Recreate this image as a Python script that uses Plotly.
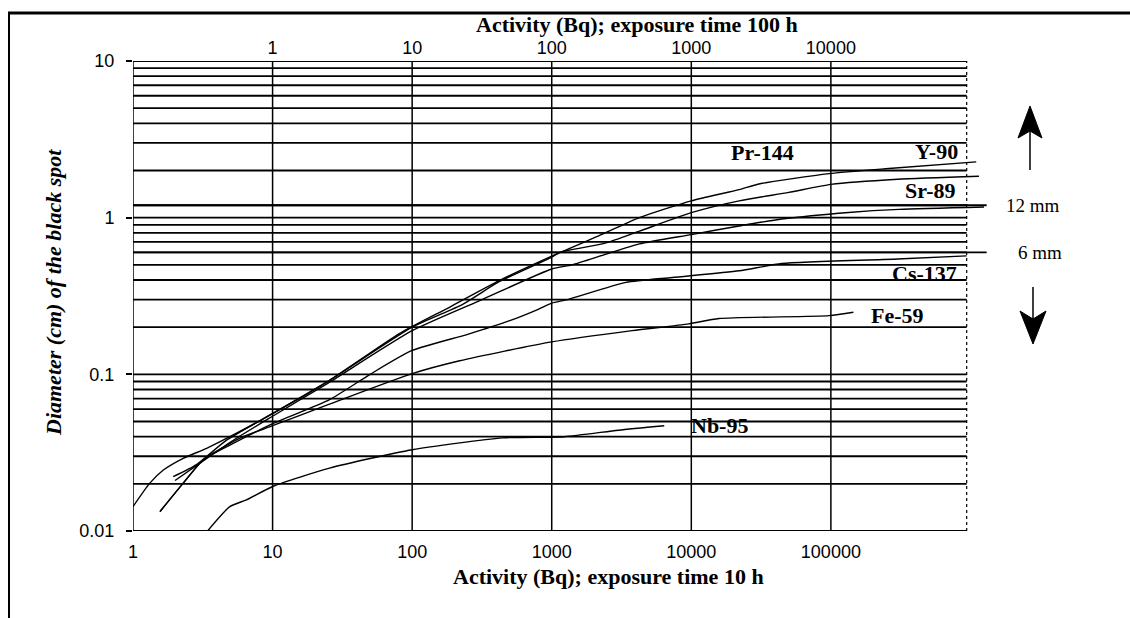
import plotly.graph_objects as go

# ---------------- data ----------------
# Activity (Bq) for 10 h exposure  ->  diameter (cm) of the black spot
y90_x = [1.94, 2.85, 4.68, 10, 25.6, 81, 185, 420, 1010, 2170, 4250, 10000, 22000, 30500, 97000, 260000, 1.1e6]
y90_y = [0.0222, 0.0265, 0.038, 0.0563, 0.0916, 0.182, 0.268, 0.396, 0.57, 0.765, 1.0, 1.28, 1.51, 1.64, 1.91, 2.06, 2.27]

pr144_x = [1.0, 1.32, 1.65, 2.29, 3.37, 4.94, 10.1, 25.6, 100, 230, 420, 1000, 1140, 2450, 4250, 10000, 22000, 50000, 100000, 300000, 1.15e6]
pr144_y = [0.0143, 0.0202, 0.0245, 0.0291, 0.0337, 0.040, 0.0563, 0.0916, 0.2, 0.28, 0.39, 0.56, 0.6, 0.69, 0.82, 1.076, 1.28, 1.45, 1.63, 1.76, 1.84]

sr89_x = [2.0, 3.0, 5.0, 10, 25, 100, 317, 1000, 1400, 2450, 4250, 10000, 22000, 44500, 134000, 308000, 1.25e6]
sr89_y = [0.021, 0.027, 0.037, 0.054, 0.088, 0.19, 0.30, 0.47, 0.5, 0.585, 0.68, 0.78, 0.885, 0.98, 1.08, 1.13, 1.17]

cs137_x = [1.56, 2.29, 3.18, 4.94, 10.1, 25.6, 50, 100, 250, 500, 800, 1000, 1300, 3400, 7300, 22000, 44500, 300000, 940000]
cs137_y = [0.0133, 0.0202, 0.0284, 0.0353, 0.0486, 0.069, 0.1, 0.142, 0.18, 0.22, 0.26, 0.285, 0.30, 0.386, 0.415, 0.458, 0.51, 0.545, 0.57]

fe59_x = [1.56, 2.29, 3.18, 5.8, 10, 25, 100, 219, 1000, 3770, 9600, 15800, 97000, 145000]
fe59_y = [0.0133, 0.0202, 0.0284, 0.039, 0.047, 0.064, 0.101, 0.122, 0.161, 0.19, 0.21, 0.227, 0.237, 0.249]

nb95_x = [3.1, 4.94, 6.5, 10.1, 25.6, 100, 445, 1230, 3000, 6400]
nb95_y = [0.009, 0.0143, 0.0158, 0.0193, 0.0252, 0.033, 0.0393, 0.040, 0.044, 0.047]

# reference diameters
ref_labels = ["12 mm", "6 mm"]
ref_cm = [1.2, 0.6]

# axes
x_ticks = [1, 10, 100, 1000, 10000, 100000]
x_ticktext = ["1", "10", "100", "1000", "10000", "100000"]
x2_ticks = [1, 10, 100, 1000, 10000]
x2_ticktext = ["1", "10", "100", "1000", "10000"]
y_ticks = [0.01, 0.1, 1, 10]
y_ticktext = ["0.01", "0.1", "1", "10"]
y_grid = [0.01, 0.02, 0.03, 0.04, 0.05, 0.06, 0.07, 0.08, 0.09,
          0.1, 0.2, 0.3, 0.4, 0.5, 0.6, 0.7, 0.8, 0.9,
          1, 2, 3, 4, 5, 6, 7, 8, 9, 10, 1.2]
x_grid = [1, 10, 100, 1000, 10000, 100000]

# ---------------- layout geometry ----------------
W, H = 1130, 618
L, R, T, B = 133, 140, 61, 87
PW = W - L - R
PH = H - T - B
XLOG_MAX = 6.14          # right end of the x range (log10)
X_EDGE = 10 ** 5.973     # dashed right border of the chart
X_REF_END = 10 ** 6.116  # end of the 12 mm / 6 mm lines


def px(x):
    return (x - L) / PW


def py(y):
    return (H - B - y) / PH


fig = go.Figure()

# horizontal grid lines
gx, gy = [], []
for v in y_grid:
    gx += [1, X_EDGE, None]
    gy += [v, v, None]
fig.add_trace(go.Scatter(x=gx, y=gy, mode="lines", line=dict(color="black", width=1.8),
                         hoverinfo="skip", showlegend=False))

# reference lines 12 mm / 6 mm (extend past the chart edge)
rx, ry = [], []
for v in ref_cm:
    rx += [1, X_REF_END, None]
    ry += [v, v, None]
fig.add_trace(go.Scatter(x=rx, y=ry, mode="lines", line=dict(color="black", width=1.8),
                         hoverinfo="skip", showlegend=False))

# vertical decade lines
vx, vy = [], []
for v in x_grid:
    vx += [v, v, None]
    vy += [0.01, 10, None]
fig.add_trace(go.Scatter(x=vx, y=vy, mode="lines", line=dict(color="black", width=1.5),
                         hoverinfo="skip", showlegend=False))

# dashed right border
fig.add_trace(go.Scatter(x=[X_EDGE, X_EDGE], y=[0.01, 10], mode="lines",
                         line=dict(color="black", width=1.2, dash="dot"),
                         hoverinfo="skip", showlegend=False))

# curves
for name, xs, ys in [("Y-90", y90_x, y90_y), ("Pr-144", pr144_x, pr144_y),
                     ("Sr-89", sr89_x, sr89_y), ("Cs-137", cs137_x, cs137_y),
                     ("Fe-59", fe59_x, fe59_y), ("Nb-95", nb95_x, nb95_y)]:
    fig.add_trace(go.Scatter(x=xs, y=ys, mode="lines", name=name,
                             line=dict(color="black", width=1.4, shape="spline", smoothing=0.6),
                             showlegend=False))

# invisible trace to carry the top axis
fig.add_trace(go.Scatter(x=[1], y=[1], xaxis="x2", mode="markers",
                         marker=dict(opacity=0), hoverinfo="skip", showlegend=False))

tickfont = dict(family="Liberation Sans", size=18, color="black")

fig.update_layout(
    width=W, height=H,
    margin=dict(l=L, r=R, t=T, b=B, pad=0),
    paper_bgcolor="white", plot_bgcolor="white",
    showlegend=False,
    xaxis=dict(type="log", range=[0, XLOG_MAX], tickvals=x_ticks, ticktext=x_ticktext,
               showgrid=False, zeroline=False, showline=False, ticks="",
               tickfont=tickfont, ticklabelstandoff=8),
    xaxis2=dict(type="log", range=[-1, XLOG_MAX - 1], overlaying="x", side="top",
                tickvals=x2_ticks, ticktext=x2_ticktext, anchor="y",
                showgrid=False, zeroline=False, showline=False, ticks="",
                tickfont=tickfont, ticklabelstandoff=2),
    yaxis=dict(type="log", range=[-2, 1], tickvals=y_ticks, ticktext=y_ticktext,
               showgrid=False, zeroline=False, showline=False,
               ticks="outside", ticklen=6, tickwidth=1.5, tickcolor="black",
               tickfont=tickfont, ticklabelstandoff=8),
)

serif_b = dict(family="Liberation Serif", size=22, color="black", weight="bold")
serif_r = dict(family="Liberation Serif", size=19, color="black")

annots = [
    ("Activity (Bq); exposure time 100 h", 637, 24, serif_b, 0),
    ("Activity (Bq); exposure time 10 h", 608, 576, serif_b, 0),
    ("Pr-144", 762, 153, serif_b, 0),
    ("Y-90", 936, 151, serif_b, 0),
    ("Sr-89", 930, 191, serif_b, 0),
    ("Cs-137", 924, 273, serif_b, 0),
    ("Fe-59", 897, 315, serif_b, 0),
    ("Nb-95", 719, 425, serif_b, 0),
    (ref_labels[0], 1033, 206, serif_r, 0),
    (ref_labels[1], 1040, 252, serif_r, 0),
]
for text, cx, cy, f, ang in annots:
    fig.add_annotation(text=text, x=px(cx), y=py(cy), xref="paper", yref="paper",
                       xanchor="center", yanchor="middle", showarrow=False, font=f, textangle=ang)

fig.add_annotation(text="Diameter (cm) of the black spot", x=px(53), y=py(293),
                   xref="paper", yref="paper", xanchor="center", yanchor="middle",
                   showarrow=False, textangle=-90,
                   font=dict(family="Liberation Serif", size=22, color="black",
                             weight="bold", style="italic"))

# outer frame (top and left edges of the scanned page)
fig.add_shape(type="line", xref="paper", yref="paper", x0=px(8), x1=px(1130), y0=py(13), y1=py(13),
              line=dict(color="black", width=3))
fig.add_shape(type="line", xref="paper", yref="paper", x0=px(9), x1=px(9), y0=py(12), y1=py(618),
              line=dict(color="black", width=2))

# up arrow
fig.add_shape(type="line", xref="paper", yref="paper", x0=px(1030), x1=px(1030), y0=py(130), y1=py(170),
              line=dict(color="black", width=1.5))
fig.add_shape(type="path", xref="paper", yref="paper",
              path=f"M {px(1030)},{py(106)} L {px(1018)},{py(138)} L {px(1030)},{py(131)} L {px(1042)},{py(138)} Z",
              fillcolor="black", line=dict(color="black", width=1))
# down arrow
fig.add_shape(type="line", xref="paper", yref="paper", x0=px(1033), x1=px(1033), y0=py(287), y1=py(320),
              line=dict(color="black", width=1.5))
fig.add_shape(type="path", xref="paper", yref="paper",
              path=f"M {px(1033)},{py(344)} L {px(1020)},{py(311)} L {px(1033)},{py(319)} L {px(1046)},{py(311)} Z",
              fillcolor="black", line=dict(color="black", width=1))

fig.write_html("out.html")
